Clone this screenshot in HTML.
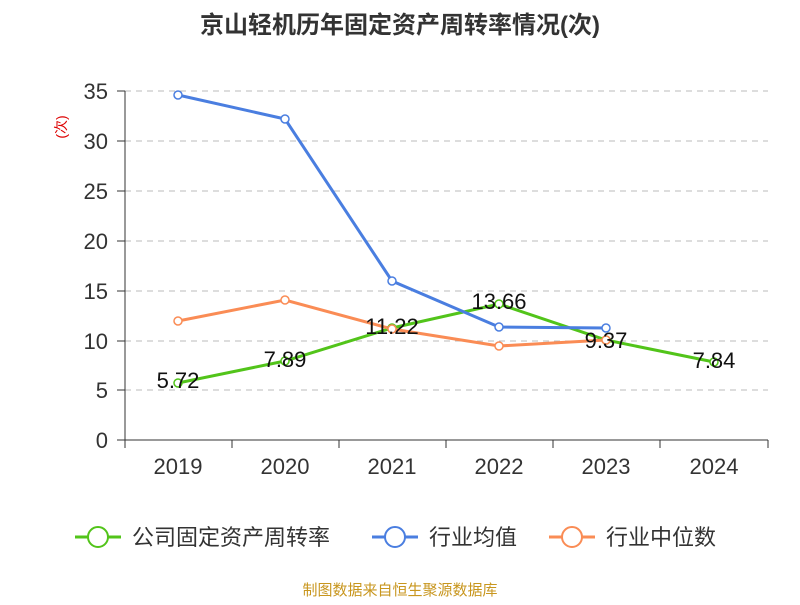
<!DOCTYPE html>
<html><head><meta charset="utf-8"><style>
body{margin:0;background:#fff}
svg text{font-family:"Liberation Sans","Noto Sans CJK SC",sans-serif}
</style></head><body>
<svg width="800" height="600" xmlns="http://www.w3.org/2000/svg">
<text x="400" y="33" text-anchor="middle" font-size="24" font-weight="bold" fill="#333">京山轻机历年固定资产周转率情况(次)</text>
<g stroke="#bbb" stroke-dasharray="6,5" stroke-width="1">
<line x1="125" x2="768" y1="91" y2="91"/><line x1="125" x2="768" y1="141" y2="141"/>
<line x1="125" x2="768" y1="191" y2="191"/><line x1="125" x2="768" y1="241" y2="241"/>
<line x1="125" x2="768" y1="291" y2="291"/><line x1="125" x2="768" y1="341" y2="341"/>
<line x1="125" x2="768" y1="390" y2="390"/>
</g>
<g stroke="#333" stroke-width="1">
<line x1="125" x2="125" y1="91" y2="440"/>
<line x1="125" x2="768" y1="440" y2="440"/>
<line x1="117" x2="125" y1="91" y2="91"/><line x1="117" x2="125" y1="141" y2="141"/><line x1="117" x2="125" y1="191" y2="191"/><line x1="117" x2="125" y1="241" y2="241"/><line x1="117" x2="125" y1="291" y2="291"/><line x1="117" x2="125" y1="341" y2="341"/><line x1="117" x2="125" y1="390" y2="390"/><line x1="117" x2="125" y1="440" y2="440"/>
<line x1="125" x2="125" y1="440" y2="448"/><line x1="232" x2="232" y1="440" y2="448"/><line x1="339" x2="339" y1="440" y2="448"/><line x1="446" x2="446" y1="440" y2="448"/><line x1="553" x2="553" y1="440" y2="448"/><line x1="660" x2="660" y1="440" y2="448"/><line x1="768" x2="768" y1="440" y2="448"/>
</g>
<g font-size="22" fill="#333" text-anchor="end">
<text x="108" y="99">35</text><text x="108" y="149">30</text><text x="108" y="199">25</text><text x="108" y="249">20</text><text x="108" y="299">15</text><text x="108" y="349">10</text><text x="108" y="398">5</text><text x="108" y="448">0</text>
</g>
<g font-size="22" fill="#333" text-anchor="middle">
<text x="178" y="474">2019</text><text x="285" y="474">2020</text><text x="392" y="474">2021</text><text x="499" y="474">2022</text><text x="606" y="474">2023</text><text x="714" y="474">2024</text>
</g>
<text transform="translate(66,127) rotate(-90)" font-size="14" fill="#d00" text-anchor="middle">(次)</text>
<g fill="none" stroke-width="3">
<polyline stroke="#52c41a" points="178,383 285,361 392,328 499,304 606,340 714,362"/>
<polyline stroke="#4a7ee0" points="178,95 285,119 392,281 499,327 606,328"/>
<polyline stroke="#fa8c55" points="178,321 285,300 392,329 499,346 606,340"/>
</g>
<g fill="#fff" stroke-width="1.5">
<g stroke="#52c41a"><circle cx="178" cy="383" r="4"/><circle cx="285" cy="361" r="4"/><circle cx="392" cy="328" r="4"/><circle cx="499" cy="304" r="4"/><circle cx="606" cy="340" r="4"/><circle cx="714" cy="362" r="4"/></g>
<g stroke="#4a7ee0"><circle cx="178" cy="95" r="4"/><circle cx="285" cy="119" r="4"/><circle cx="392" cy="281" r="4"/><circle cx="499" cy="327" r="4"/><circle cx="606" cy="328" r="4"/></g>
<g stroke="#fa8c55"><circle cx="178" cy="321" r="4"/><circle cx="285" cy="300" r="4"/><circle cx="392" cy="329" r="4"/><circle cx="499" cy="346" r="4"/><circle cx="606" cy="340" r="4"/></g>
</g>
<g font-size="22" fill="#111" text-anchor="middle">
<text x="178" y="388">5.72</text><text x="285" y="367">7.89</text><text x="392" y="334">11.22</text><text x="499" y="309">13.66</text><text x="606" y="348">9.37</text><text x="714" y="368">7.84</text>
</g>
<g font-size="22" fill="#333">
<line x1="75" x2="121" y1="537" y2="537" stroke="#52c41a" stroke-width="3"/><circle cx="98" cy="537" r="10" fill="#fff" stroke="#52c41a" stroke-width="2"/>
<text x="132" y="545">公司固定资产周转率</text>
<line x1="372" x2="418" y1="537" y2="537" stroke="#4a7ee0" stroke-width="3"/><circle cx="395" cy="537" r="10" fill="#fff" stroke="#4a7ee0" stroke-width="2"/>
<text x="429" y="545">行业均值</text>
<line x1="549" x2="595" y1="537" y2="537" stroke="#fa8c55" stroke-width="3"/><circle cx="572" cy="537" r="10" fill="#fff" stroke="#fa8c55" stroke-width="2"/>
<text x="606" y="545">行业中位数</text>
</g>
<text x="400" y="595" text-anchor="middle" font-size="15" fill="#c8961e">制图数据来自恒生聚源数据库</text>
</svg>
</body></html>
